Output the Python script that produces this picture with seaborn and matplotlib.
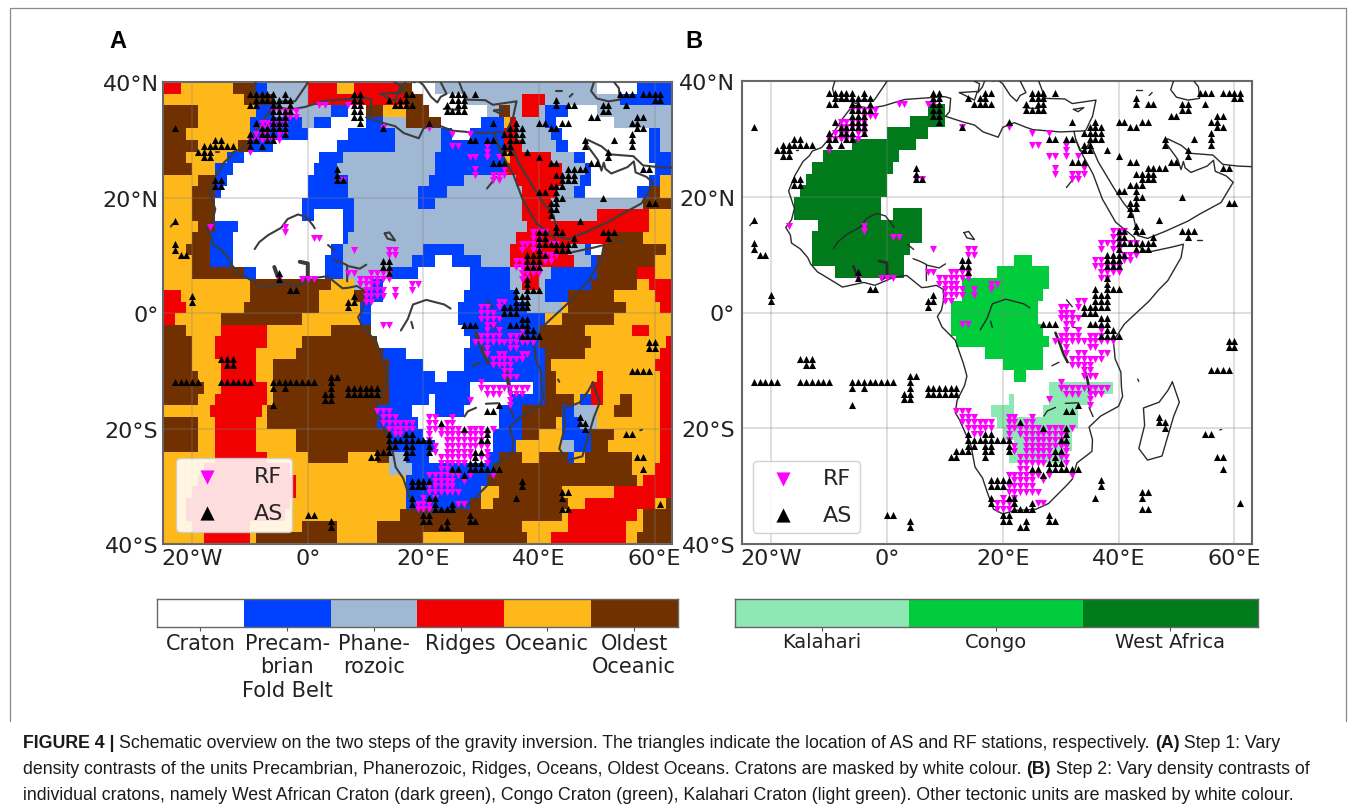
import numpy as np
import pandas as pd
import seaborn as sns
import matplotlib
matplotlib.use("Agg")
import matplotlib.pyplot as plt
from matplotlib.colors import ListedColormap
from matplotlib.lines import Line2D

sns.set_theme(style="white")
plt.rcParams['font.family'] = ['DejaVu Sans']

UNITS = ["Craton", "Precam-\nbrian\nFold Belt", "Phane-\nrozoic", "Ridges", "Oceanic", "Oldest\nOceanic"]
UNIT_COLORS = ["#ffffff", "#0040ff", "#a0b8d4", "#f00000", "#ffb819", "#703000"]
CRATONS = ["Kalahari", "Congo", "West Africa"]
CRATON_COLORS = ["#ffffff", "#8ee8b4", "#00cc3c", "#007a1a"]
XT = [-20, 0, 20, 40, 60]
XTL = ["20°W", "0°", "20°E", "40°E", "60°E"]
YT = [40, 20, 0, -20, -40]
YTL = ["40°N", "20°N", "0°", "20°S", "40°S"]

# tectonic units: one row per 2 degrees of latitude, "unit + eastern limit"
ROWS = [
"R-22 O-13 D-9 P-7 H0 R5 O8 R16 D18 C22 H50 C57 P63",
"O-11 D-6 H0 R17 D20 C27 H37 R41 H54 P63",
"D-19 O-9 P-6 H4 P7 C10 D13 O17 D21 C31 H33 D35 H37 R40 H41 P45 C50 H63",
"D-19 O-10 P-1 H1 P4 C10 P13 H17 D23 C30 P34 O35 R36 H41 P43 C53 H63",
"D-21 O-10 P0 C7 P15 H23 P25 C28 P34 R36 H42 P44 C59 P61 H63",
"D-19 O-12 D-10 P-6 C5 P15 H23 P34 R37 H43 P45 C59 P61 H63",
"D-21 O-14 P-11 C2 P6 H22 P34 O35 R42 H46 P48 C59 P63",
"D-20 O-16 P-13 C1 P5 H22 P34 R44 H48 P49 C60 P63",
"O-19 D-16 P-14 C0 P7 H21 P27 H36 R44 H47 P49 C59 P61 O63",
"O-20 D-16 P-15 C0 P7 H19 P24 H37 R43 H46 P48 C57 P59 D61 O63",
"O-20 D-16 C-1 P8 H19 P22 H37 R42 H58 D63",
"O-20 D-16 C-1 P1 C6 P8 H37 R42 H50 R59 O63",
"O-19 D-16 P-12 C6 P8 H38 R59 O63",
"O-20 D-17 P-13 C6 P7 H36 R52 D58 O63",
"O-21 D-17 P-13 C4 P6 H20 P27 H35 R45 H48 P49 C51 D62 O63",
"O-20 D-17 P-13 C3 P6 H18 P22 C25 P30 H35 R46 H49 P50 D60 O63",
"O-20 D-11 P-9 C3 P6 H14 P19 C28 P35 H37 R40 H42 P50 D57 R60 O63",
"O-10 D4 O8 H11 P13 C28 P35 H37 R40 H41 P49 D57 O59 R63",
"R-22 O-10 D2 O8 D10 P13 C27 P36 H41 P45 D53 O60 R63",
"R-21 O-11 D2 O9 P11 C26 P38 H44 O45 D55 O61 R63",
"R-23 O-15 D-1 O9 P11 C26 P41 O44 D53 O63",
"D-21 O-15 R-7 O4 D11 C27 P40 D48 O56 R59 O63",
"D-20 O-16 R-7 O-1 D12 C28 P40 D49 O62 R63",
"D-20 O-16 R-9 O-2 D13 P17 C27 P41 D48 O61 R63",
"D-20 O-15 R-9 O-6 D14 P20 C27 P41 D42 O60 R63",
"D-19 O-15 R-9 O-6 D14 P22 C24 P41 D43 O50 R51 O61 R63",
"D-18 O-15 R-7 O-6 D14 P28 C39 P41 D43 O49 R51 O61 R63",
"D-19 O-16 R-7 O-6 D14 P21 C22 P28 C35 P41 D46 O47 P49 R51 O54 D56 O61 R63",
"O-17 R-8 O-7 D12 P18 C22 P27 C33 P37 D44 P46 H50 O53 D56 O61 R63",
"D-19 O-16 R-9 O-7 D12 P19 C33 P37 D43 O44 P47 H50 O61 R63",
"D-19 O-16 R-9 O-2 D14 P20 C32 P37 D40 O44 P49 D53 O61 R63",
"D-19 O-16 R-9 O-2 D14 P22 C32 P36 O44 H46 P49 D52 O61 R63",
"O-16 R-7 O0 D7 O12 D14 H17 P21 C31 P33 D37 O40 D45 P46 O48 D56 O61 R63",
"O-18 R-3 O14 H18 P32 D56 O60 R63",
"O-19 R-2 O17 P31 D57 O58 R63",
"O-20 R-2 O17 P30 O33 D44 O53 R63",
"O-21 R-3 O17 P28 D30 O32 D45 O48 R60 O62 D63",
"O-21 R-4 O16 D44 O45 R57 O58 D63",
"O-20 R-10 O-1 D5 O12 D37 O45 R55 O58 D63",
"O-18 R-10 O-9 D5 O12 D20 O27 D38 O42 R55 O57 D63",
]
UNIT_CODES = "CPHROD"

# stations: latitude -> longitudes
AS_ROWS = {
38: [-10,-9,-8,-7,-6,-4,8,9,17,18,25,26,27,29,54,55,56,58,59,60,61],
37: [-9,-8,-7,-6,-5,-4,-3,8,9,14,16,17,25,26,27,43,60,61],
36: [-10,-9,-6,-5,-3,8,9,15,16,17,18,24,26,27,43,45,46,51,52,55],
35: [-6,-5,-4,-3,8,9,24,25,26,27,51,52],
34: [-6,-5,-4,8,9,49,50,57,58],
33: [-9,-6,-5,-4,9,21,32,36,40,41,44,45,56,57],
32: [-23,-8,-7,-6,-5,-4,13,35,36,37,42,43,57,58],
31: [-10,-8,-7,-6,-4,34,35,36,37,56],
30: [-16,-15,-10,-9,-7,-6,28,29,31,32,35,36,37,48,53,56],
29: [-18,-17,-16,-15,-14,-13,-10,-8,34,35,48,56],
28: [-19,-18,-17,34,35,38,52],
27: [-18,-17,40,52],
26: [32,33,34,42,43,49,50],
25: [5,45,46,47,48,58,59],
24: [5,43,44,45,46],
23: [-16,-15,5,6,44,45,46],
22: [-16,-15,42,43,44],
21: [40,41,43],
20: [43,44,51],
19: [42,43,59,60],
18: [42,43],
17: [42],
16: [-23,47],
15: [43],
14: [40,41,43,44,51,52,53],
13: [40,41,46,52],
12: [-23,40,41,42,43,44,45,46],
11: [-23,40,43,44,45],
10: [-22,-21,38,39,40,41],
9: [13,14,38,39,40],
8: [13,14,38,39,40],
7: [-5,14],
6: [-5,38],
5: [38],
4: [-3,-2,36,38,39,40],
3: [-20,8,36,37,38],
2: [-20,7,8,36,37,38],
1: [7,34,35,36,37,38],
0: [34,35,36],
-1: [37,38],
-2: [27,28,29,35,36,37,38],
-3: [38,39],
-4: [37,38,39,40],
-5: [59,60],
-6: [59,60],
-8: [-15,-14,-13],
-9: [-14,-13],
-10: [56,57,58,59],
-11: [4,5],
-12: [-23,-22,-21,-20,-19,-15,-14,-13,-12,-11,-10,-6,-5,-4,-3,-2,-1,0,1,4],
-13: [-6,-4,4,7,8,9,10,11,12],
-14: [3,4,7,8,9,10,11,12],
-15: [3,4],
-16: [-6,33],
-17: [31,32],
-18: [47],
-19: [23,47,48],
-20: [27,31,48],
-21: [14,17,18,31,55,56],
-22: [14,15,16,17,18,19,20,21,30,31],
-23: [14,15,17,18,21],
-24: [12,13,14,17,18,21,29,30],
-25: [11,12,17,29,57,58],
-26: [28,29,30],
-27: [25,26,28,29,30,31,32,33,58],
-28: [27],
-29: [18,19,20,21,37],
-30: [18,19,20,37],
-31: [44,45],
-32: [18,21,22,36,44],
-33: [18,22,25,61],
-34: [22,23,24,25,44,45],
-35: [0,1,20,21,28],
-36: [4,20,21,24,28,29],
-37: [4,23,24],
}
RF_ROWS = {
36: [2,3,7,8],
35: [-6,-5,-4,-3,-2],
34: [-4,-3,-2],
33: [-8,-7,-6,-5,-4],
32: [-8,-7,-6,-5,-4,13,21],
31: [-9,-8,-7,-5,-4,25,28],
30: [-10,-9,-8,-7,-6,-5],
29: [25,26,31],
28: [-10,31],
27: [28,29,31,33],
25: [29,34],
24: [29,32,33,34],
23: [5,6,32,33],
15: [-17,-4],
14: [-4,39,40,41],
13: [1,2,39,40],
12: [37,38,39,40,42,43],
11: [8,14,15,37,39,40],
10: [14,15,41,42,43],
9: [36,37,41,42],
8: [36,37,38,39,40],
7: [7,8,11,12,13,14,37,38,39,40],
6: [-5,-1,0,1,9,10,11,12,13,14,37,38],
5: [9,10,11,12,18,19],
4: [10,11,12,13,15,18],
3: [10,11,12,13,15],
2: [10,11,33,34],
1: [30,31,33],
0: [30,31,32],
-1: [30,31,32,33],
-2: [13,14,31,32],
-3: [31,33,37],
-4: [30,31,32,33,35,36,37],
-5: [29,30,31,32,33,34,35,36,37,38,39],
-6: [31,35,36],
-7: [31,33,34,37,38],
-8: [32,33,34,35,36,37],
-9: [32,33,34,35],
-10: [34,35],
-11: [34,35,36],
-12: [30],
-13: [30,31,32,33,34,35,36,37,38],
-14: [31,32,33,35,36,37],
-15: [28,35],
-16: [35],
-17: [12,13,14],
-18: [13,14,15,21,22,25],
-19: [13,14,15,16,17,18,21,22,24,25],
-20: [14,15,16,17,18,21,22,23,24,25,26,28,29,30,32],
-21: [15,16,21,23,24,25,26,27,28,29,30,31],
-22: [21,24,25,26,27,28,29,30],
-23: [22,24,25,26,27,28,29,30,31],
-24: [22,24,25,26,27,28,31],
-25: [23,24,25,26,27,28,30,31],
-26: [23,24,25,26,27,31],
-27: [23,24],
-28: [21,22,23,24,25,26,28,32],
-29: [22,23,24,25,27],
-30: [21,22,23,24,25],
-31: [21,22,23,24,25,26],
-32: [20,22],
-33: [19,20,21,26,27],
-34: [19,20,21],
}

# coast outlines and inland water, as (lon, lat)
AFRICA = [(-5.9,35.8),(-7.6,33.6),(-9.7,30.4),(-11.3,28.5),(-12.9,27.9),(-13.4,27.1),(-14.5,26.1),(-15.9,23.7),(-17,21),(-16,18),(-16.5,16),(-17.5,14.7),(-16.7,13.4),(-16.5,12),(-15,11),(-13.7,9.5),(-13.2,8.4),(-12,7),(-10.8,6.3),(-7.7,4.4),(-4,5.2),(-2.1,4.7),(-0.2,5.5),(1.2,6.1),(3.4,6.4),(6,4.3),(7,4.4),(8.5,4.7),(9.7,4),(9.8,2.5),(9.7,1.8),(9.4,0.4),(8.7,-0.7),(9.5,-2.5),(11.8,-4.8),(12.2,-6),(13.2,-8.8),(13.8,-11),(13.4,-12.6),(12.1,-15.2),(11.8,-17.3),(12.5,-18.5),(14.5,-23),(15.2,-26.7),(16.5,-28.6),(17.3,-31),(18.4,-34),(20,-34.8),(22.1,-34.2),(25.7,-34),(27.9,-33),(31,-29.9),(32,-28.8),(32.8,-26),(35.4,-24),(35.5,-22),(34.9,-19.8),(36.9,-17.9),(40,-16.2),(40.7,-14.5),(40.5,-12.9),(40.4,-10.3),(39.4,-8),(39.3,-6.8),(39.1,-5),(39.7,-4),(41,-2),(45.3,2),(47,4),(48.5,5.5),(50.8,9.5),(51.2,11.8),(49.2,11.3),(45,10.4),(43.2,11.6),(42.7,13),(39.5,15.6),(37.2,19.6),(35.6,23.9),(33.8,27.2),(32.6,29.9),(32.3,31.3),(29.9,31.2),(25.2,31.6),(24,32),(22,32.8),(20,32),(19.2,30.3),(16.6,31.2),(15.1,32.4),(13.2,32.9),(10.1,33.9),(10.8,34.7),(11,37),(9.9,37.3),(3,36.8),(-0.6,35.7),(-3,35.3),(-5.9,35.8)]
ASIA = [(32.6,29.9),(33.3,28),(34.2,27.8),(35,29.5),(36.5,26),(39.2,21.5),(40.8,19),(42.5,16.9),(43.3,13.3),(45,12.8),(48,14),(52,15.8),(54,17),(57.7,19),(59.8,22.5),(58.6,23.6),(56.7,24.4),(56.4,26.3),(55.3,25.3),(52.5,24.2),(51.5,25),(51.2,26.1),(50.8,24.7),(50.2,26.5),(48,29.5),(48.5,30),(50.8,28.9),(52.5,27.5),(56.3,27.2),(58,25.6),(60.6,25.3),(63,25.2)]
LEVANT = [(32.3,31.3),(34.3,31.4),(35.5,33.9),(36.1,36.7),(32,36.1),(30.7,36.9),(27.4,37),(26.8,38.4),(26.2,40)]
GREECE = [(23,40),(24,38),(23,37.5),(22.4,36.5),(21.3,37.5),(20,39.5),(19.4,40)]
IBERIA = [(-9,40),(-9.4,38.7),(-9,37),(-6.3,36.5),(-5.4,36.1),(-4.4,36.7),(-2.2,36.7),(-0.3,39.5),(0,40)]
ITALY = [(18.5,40),(17,40.4),(16.5,39),(15.7,38),(16,39.5),(15,40)]
SICILY = [(12.5,38),(15.6,38.2),(15.1,36.7),(12.5,38)]
CASPIAN = [(49.5,40),(49,38.5),(50,37.2),(52,36.7),(54,37),(53.8,39),(53,40)]
MADAGASCAR = [(49.3,-12),(50.5,-15.5),(49.5,-18),(47.5,-24.8),(45,-25.5),(43.5,-23.5),(44.5,-19.5),(44.3,-16.5),(47,-15.5),(48.5,-13.5),(49.3,-12)]
SMALL = [
 [(32.2,35.1),(34,35.4),(33,34.7),(32.2,35.1)], [(23.5,35.4),(26.3,35.2)], [(53.6,12.5),(54.5,12.5)],
 [(43,38.5),(44,38.5)], [(45.3,37.5),(45.8,38)], [(57.5,-20.3),(57.8,-20.2)], [(43.3,-11.5),(43.5,-11.9)],
 [(-23.7,15),(-23.4,15.4)], [(-15.8,28),(-15.4,28)], [(13.3,13.8),(14.1,14),(15.1,12.6),(13.8,12.9),(13.3,13.8)],
]
RIVERS = [
 [(-9.2,11.1),(-8.4,12.3),(-6.9,13.5),(-4.6,14.8),(-3.5,16.3),(-1.7,17.1),(-0.3,16.7),(0.9,15.2),(1.2,14.7)],
 [(3.5,11.8),(4.6,10.9)], [(4.5,9.3),(5.8,8.8),(6.8,8.3),(6.8,5.5)], [(6.8,8.2),(9,7.7),(10.1,8.4)],
 [(16.1,-3),(17.3,-1),(18.2,1.5),(20.5,2.3),(23.6,1.5),(24.7,0.8)], [(17.9,-1.5),(18.2,-2.6)],
 [(31,2.2),(32,1)], [(32,0),(32,-2.5),(33.5,-2.8)],
 [(28.5,-9.2),(29.7,-8.6)], [(27.1,-17.9),(27.7,-17),(29.1,-16.4)], [(30.8,-15.7),(32.9,-15.6)], [(34.9,-16.4),(35.6,-18)],
 [(31,21.6),(32.6,23.6)],
]
LAKES = [
 [(-1.4,8.9),(0,8.6),(0,6.3),(-0.9,5.7)], [(-5.8,8),(-5.2,6.3)],
 [(29.1,-3.5),(29.7,-5),(30.5,-7.2),(31.2,-8.6)], [(34,-9.5),(34.6,-11.5),(35.1,-14.1)],
]
CAPTION = [
 [("FIGURE 4 | ", True), ("Schematic overview on the two steps of the gravity inversion. The triangles indicate the location of AS and RF stations, respectively. ", False), ("(A)", True), (" Step 1: Vary", False)],
 [("density contrasts of the units Precambrian, Phanerozoic, Ridges, Oceans, Oldest Oceans. Cratons are masked by white colour. ", False), ("(B)", True), (" Step 2: Vary density contrasts of", False)],
 [("individual cratons, namely West African Craton (dark green), Congo Craton (green), Kalahari Craton (light green). Other tectonic units are masked by white colour.", False)],
]

W, H = 1355, 812
LON0, LAT0 = -25, 40
CAP_SIZE = 12.75

def build_units():
    g = np.zeros((len(ROWS), 88), dtype=int)
    for r, row in enumerate(ROWS):
        start = LON0
        for tok in row.split():
            end = int(tok[1:])
            g[r, start - LON0:end - LON0] = UNIT_CODES.index(tok[0])
            start = end
    return g

def build_cratons(units):
    g = np.zeros_like(units)
    for r in range(units.shape[0]):
        lat = 39 - 2 * r
        for c in range(units.shape[1]):
            lon = c + LON0
            if units[r, c] != 0:
                continue
            if lat > 0 and lon < 11:
                g[r, c] = 3
            elif -12 < lat < 10 and lon < 31:
                g[r, c] = 2
            elif lat <= -12 and lon < 40:
                g[r, c] = 1
    return g

def stations(rows):
    rec = [(lon, lat) for lat, lons in rows.items() for lon in lons]
    df = pd.DataFrame(rec, columns=["lon", "lat"])
    df["x"] = df.lon - LON0
    df["y"] = (LAT0 - df.lat) / 2
    return df

def px_axes(fig, l, t, r, b):
    return fig.add_axes([l / W, 1 - b / H, (r - l) / W, (b - t) / H])

def draw_line(ax, pts, color, lw):
    a = np.array(pts, float)
    ax.plot(a[:, 0] - LON0, (LAT0 - a[:, 1]) / 2, color=color, lw=lw, zorder=2.8,
            solid_capstyle="round", solid_joinstyle="round")

def draw_map(ax, grid, cols, coast_col, coast_lw, leg):
    sns.heatmap(grid, ax=ax, cmap=ListedColormap(cols), vmin=0, vmax=len(cols) - 1,
                cbar=False, xticklabels=False, yticklabels=False)
    for pts in [AFRICA, ASIA, LEVANT, GREECE, IBERIA, ITALY, SICILY, CASPIAN, MADAGASCAR] + SMALL + RIVERS:
        draw_line(ax, pts, coast_col, coast_lw)
    for pts in LAKES:
        draw_line(ax, pts, coast_col, coast_lw * 1.9)
    rf, st = stations(RF_ROWS), stations(AS_ROWS)
    sns.scatterplot(data=rf, x="x", y="y", ax=ax, marker="v", color="#ff00ff", s=26,
                    linewidth=0, label="RF", zorder=3)
    sns.scatterplot(data=st, x="x", y="y", ax=ax, marker="^", color="black", s=26,
                    linewidth=0, label="AS", zorder=3.1)
    ax.set_xlim(0, 88)
    ax.set_ylim(40, 0)
    ax.set_xlabel("")
    ax.set_ylabel("")
    ax.set_xticks([v - LON0 for v in XT])
    ax.set_xticklabels(XTL, fontsize=16, color="#222222")
    ax.set_yticks([(LAT0 - v) / 2 for v in YT])
    ax.set_yticklabels(YTL, fontsize=16, color="#222222", rotation=0)
    ax.tick_params(length=0, bottom=False, left=False)
    ax.tick_params(axis="x", pad=3)
    ax.tick_params(axis="y", pad=leg["ypad"])
    ax.grid(True, color="#808080", alpha=0.3, lw=1.2)
    ax.set_axisbelow(False)
    for s in ax.spines.values():
        s.set_visible(True)
        s.set_color("#666666")
        s.set_linewidth(1.5)
    ax.legend(loc="lower left", bbox_to_anchor=leg["anchor"], borderaxespad=0, fontsize=16,
              markerscale=2.0, labelspacing=leg["ls"], handletextpad=leg["htp"], borderpad=leg["bp"],
              handlelength=leg["hl"], frameon=True, framealpha=0.87, edgecolor="#cccccc", facecolor="white")

def draw_bar(ax, n, cols, labels, fs, pad):
    sns.heatmap(np.arange(n).reshape(1, n), ax=ax, cmap=ListedColormap(cols), vmin=0, vmax=n - 1,
                cbar=False, xticklabels=False, yticklabels=False)
    ax.set_xticks(np.arange(n) + 0.5)
    ax.set_xticklabels(labels, fontsize=fs, rotation=0, color="#222222", linespacing=1.2)
    ax.tick_params(bottom=True, length=3, width=0.8, color="#555555", pad=pad)
    for s in ax.spines.values():
        s.set_visible(True)
        s.set_color("#666666")
        s.set_linewidth(1.0)

fig = plt.figure(figsize=(W / 100, H / 100), dpi=100)

units = build_units()
axA = px_axes(fig, 163.3, 83.3, 672, 545)
draw_map(axA, units, UNIT_COLORS, "#3c3c3c", 1.5,
         dict(anchor=(0.0255, 0.026), ls=0.75, htp=1.1, hl=2.0, bp=0.4, ypad=3.5))
axB = px_axes(fig, 742.3, 82, 1251.7, 545)
draw_map(axB, build_cratons(units), CRATON_COLORS, "#2a2a2a", 1.0,
         dict(anchor=(0.021, 0.024), ls=0.75, htp=0.8, hl=2.0, bp=0.35, ypad=5))

draw_bar(px_axes(fig, 157, 599.6, 677.5, 628), 6, UNIT_COLORS, UNITS, 15, 1.5)
draw_bar(px_axes(fig, 735, 599.6, 1257.5, 628), 3, CRATON_COLORS[1:], CRATONS, 14, 0.5)

cap_font = "Liberation Sans"
fig.text(109 / W, 1 - 41 / H, "A", fontsize=17, fontweight="bold", family=cap_font, va="center", color="black")
fig.text(685 / W, 1 - 41 / H, "B", fontsize=17, fontweight="bold", family=cap_font, va="center", color="black")

renderer = fig.canvas.get_renderer()
def text_width(s, bold):
    t = fig.text(0, 0, s, fontsize=CAP_SIZE, family=cap_font, fontweight="bold" if bold else "normal")
    w = t.get_window_extent(renderer).width
    t.remove()
    return w

for i, parts in enumerate(CAPTION):
    x = 23.0
    y = 744 + i * 25.7
    for txt, bold in parts:
        fig.text(x / W, 1 - y / H, txt, fontsize=CAP_SIZE, family=cap_font,
                 fontweight="bold" if bold else "normal", va="center", ha="left", color="#1a1a1a")
        trail = len(txt) - len(txt.rstrip())
        x += text_width("|" + txt + "|", bold) - text_width("||", bold)

for (x0, y0, x1, y1) in [(10, 722, 10, 9), (10, 9, 1346, 9), (1346, 9, 1346, 722)]:
    fig.add_artist(Line2D([x0 / W, x1 / W], [1 - y0 / H, 1 - y1 / H], color="#8a8a8a", lw=0.9))

fig.savefig("out.png", dpi=100)
